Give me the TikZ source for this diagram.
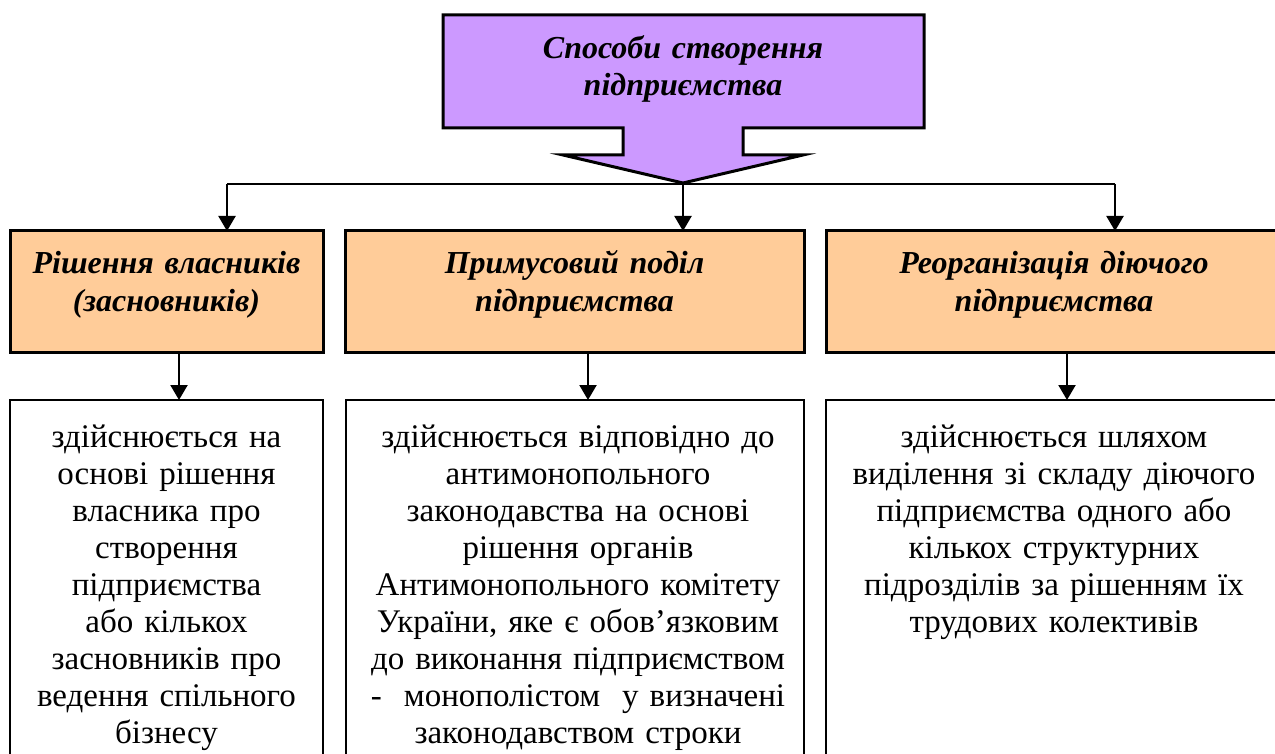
\documentclass[tikz,border=0pt]{standalone}
\usepackage{fontspec}
\setmainfont{Liberation Serif}
\usetikzlibrary{arrows.meta}
\definecolor{lav}{HTML}{CC99FF}
\definecolor{peach}{HTML}{FFCC99}
\tikzset{
 conn/.style={line width=2.2pt, draw=black},
 arr/.style={conn, -{Triangle[width=17pt,length=15pt]}},
 headbox/.style={draw=black, line width=3pt, fill=peach, inner sep=0pt, outer sep=0pt, anchor=north west},
 bodybox/.style={draw=black, line width=1.8pt, fill=white, inner sep=0pt, outer sep=0pt, anchor=north west},
 headtext/.style={font=\fontsize{32}{38}\selectfont\bfseries\itshape, align=center, inner sep=0pt, anchor=base},
 bodytext/.style={font=\fontsize{33}{37}\selectfont, align=center, inner sep=0pt, anchor=base},
}
\begin{document}
\begin{tikzpicture}[x=1pt,y=-1pt]
\useasboundingbox (0,0) rectangle (1275,754);
\clip (0,0) rectangle (1275,754);
% top callout
\draw[line width=3pt, fill=lav, line join=miter]
 (443,15) -- (924,15) -- (924,128) -- (743,128) -- (743,155) -- (803,155)
 -- (683,183) -- (563,155) -- (623,155) -- (623,128) -- (443,128) -- cycle;
\coordinate (tip) at (683,183);
\node[headtext, text width=470pt, font=\fontsize{32}{37}\selectfont\bfseries\itshape] (top) at (683,59) {Способи створення\\підприємства};
% head boxes
\node[headbox, minimum width=313pt, minimum height=121pt] (h1) at (10,231) {};
\node[headbox, minimum width=459pt, minimum height=121pt] (h2) at (345,231) {};
\node[headbox, minimum width=456pt, minimum height=121pt] (h3) at (826,231) {};
\node[headtext, text width=313pt] (t1) at (166.5,274) {Рішення власників\\(засновників)};
\node[headtext, text width=459pt] (t2) at (574.5,274) {Примусовий поділ\\підприємства};
\node[headtext, text width=456pt] (t3) at (1054,274) {Реорганізація діючого\\підприємства};
% body boxes
\node[bodybox, minimum width=313pt, minimum height=370pt] (b1) at (10,400) {};
\node[bodybox, minimum width=458pt, minimum height=370pt] (b2) at (346,400) {};
\node[bodybox, minimum width=456pt, minimum height=370pt] (b3) at (826,400) {};
\node[bodytext, text width=313pt] (x1) at (166.5,447) {здійснюється на\\основі рішення\\власника про\\створення\\підприємства\\або кількох\\засновників про\\ведення спільного\\бізнесу};
\node[bodytext, text width=458pt] (x2) at (578,447) {здійснюється відповідно до\\антимонопольного\\законодавства на основі\\рішення органів\\Антимонопольного комітету\\України, яке є обов’язковим\\до виконання підприємством\\-\ \ монополістом\ \ у визначені\\законодавством строки};
\node[bodytext, text width=456pt] (x3) at (1054,447) {здійснюється шляхом\\виділення зі складу діючого\\підприємства одного або\\кількох структурних\\підрозділів за рішенням їх\\трудових колективів};
% connectors
\coordinate (jl) at (227,184);
\coordinate (jr) at (1115,184);
\coordinate (d1) at (179,0);
\coordinate (d2) at (588,0);
\coordinate (d3) at (1067,0);
\draw[conn] (jl) -- (jr);
\draw[arr] (jl) -- (jl |- h1.north);
\draw[arr] (tip) -- (tip |- h2.north);
\draw[arr] (jr) -- (jr |- h3.north);
\draw[arr] (d1 |- h1.south) -- (d1 |- b1.north);
\draw[arr] (d2 |- h2.south) -- (d2 |- b2.north);
\draw[arr] (d3 |- h3.south) -- (d3 |- b3.north);
\end{tikzpicture}
\end{document}
